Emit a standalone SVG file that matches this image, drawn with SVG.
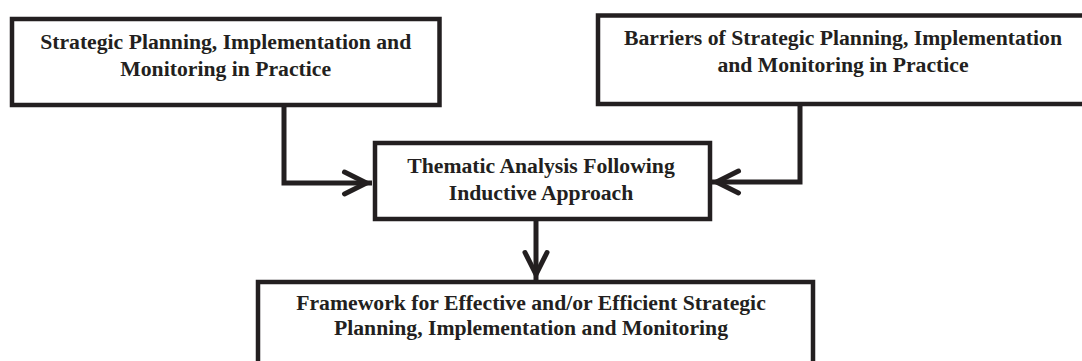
<svg xmlns="http://www.w3.org/2000/svg" width="1082" height="361" viewBox="0 0 1082 361">
  <style>
    .box { fill: #ffffff; stroke: #231f20; stroke-width: 4.5; }
    .label { font-family: "Liberation Serif", "Times New Roman", serif; font-weight: bold; font-size: 21.7px; fill: #231f20; text-anchor: middle; }
    .wire { fill: none; stroke: #231f20; stroke-width: 5; stroke-linejoin: miter; marker-end: url(#chevron); }
  </style>
  <defs>
    <!-- open chevron arrowhead; its outer tip sits on the path end -->
    <marker id="chevron" markerUnits="userSpaceOnUse" viewBox="-34 -16 36 32" markerWidth="36" markerHeight="32" refX="0" refY="0" orient="auto" overflow="visible">
      <path d="M-27.5,-11 L-5.5,0 L-27.5,11" fill="none" stroke="#231f20" stroke-width="5" stroke-linecap="round" stroke-linejoin="miter"/>
    </marker>
  </defs>

  <rect width="1082" height="361" fill="#ffffff"/>

  <g id="connectors">
    <path class="wire" d="M284,105 V183 H372"/>
    <path class="wire" d="M800,104 V182 H711"/>
    <path class="wire" d="M536,221 V280"/>
  </g>

  <g id="practice">
    <rect class="box" x="12" y="19" width="427.5" height="86"/>
    <text class="label" x="225.7" y="49">Strategic Planning, Implementation and</text>
    <text class="label" x="225.7" y="76">Monitoring in Practice</text>
  </g>

  <g id="barriers">
    <rect class="box" x="598" y="15.5" width="490" height="88.5"/>
    <text class="label" x="843" y="45">Barriers of Strategic Planning, Implementation</text>
    <text class="label" x="843" y="72">and Monitoring in Practice</text>
  </g>

  <g id="thematic">
    <rect class="box" x="375" y="143" width="335" height="76"/>
    <text class="label" x="541" y="173">Thematic Analysis Following</text>
    <text class="label" x="541" y="200">Inductive Approach</text>
  </g>

  <g id="framework">
    <rect class="box" x="258" y="282" width="555" height="100"/>
    <text class="label" x="531" y="310">Framework for Effective and/or Efficient Strategic</text>
    <text class="label" x="531" y="335">Planning, Implementation and Monitoring</text>
  </g>
</svg>
